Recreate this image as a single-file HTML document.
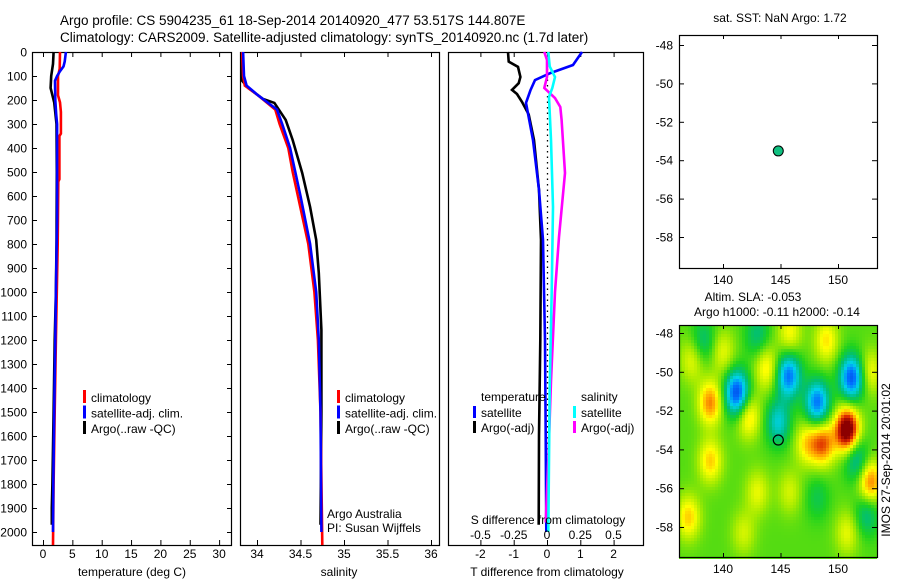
<!DOCTYPE html>
<html><head><meta charset="utf-8">
<style>
html,body{margin:0;padding:0;background:#fff;}
svg{display:block;font-family:"Liberation Sans",Arial,sans-serif;}
text{font-size:12px;fill:#000;}
</style></head>
<body>
<svg id="fig" width="900" height="580" viewBox="0 0 900 580" xmlns="http://www.w3.org/2000/svg">
<text x="60" y="25" style="font-size:13.5px">Argo profile: CS 5904235_61 18-Sep-2014 20140920_477 53.517S 144.807E</text>
<text x="60" y="42" style="font-size:13.5px">Climatology: CARS2009. Satellite-adjusted climatology: synTS_20140920.nc (1.7d later)</text>
<g id="layer"></g>
</svg>
<script>
// ---------------- data ----------------
const depthTicks=[0,100,200,300,400,500,600,700,800,900,1000,1100,1200,1300,1400,1500,1600,1700,1800,1900,2000];
const tempTicks=[0,5,10,15,20,25,30];
const salTicks=[34,34.5,35,35.5,36];
const tdiffTicks=[-2,-1,0,1,2];
const sdiffTicks=[-0.5,-0.25,0,0.25,0.5];
const latTicks=[-48,-50,-52,-54,-56,-58];
const lonTicks=[140,145,150];

const tClimDepth=[0,70,100,180,210,250,340,350,530,540,800,1000,1200,1500,1800,2054];
const tClimVal=[2.9,2.85,2.55,2.55,2.9,3.05,3.05,2.8,2.8,2.6,2.5,2.35,2.2,2.0,1.8,1.7];
const tSatDepth=[0,40,60,80,100,120,200,260,300,700,1000,1200,1500,1800,2000];
const tSatVal=[3.9,3.7,3.5,2.9,2.4,2.05,2.1,2.25,2.4,2.4,2.2,2.1,1.9,1.75,1.7];
const tArgoDepth=[0,50,100,150,170,210,300,500,800,1000,1200,1500,1800,1900,1970];
const tArgoVal=[1.8,1.7,1.4,1.3,1.5,1.9,2.3,2.35,2.3,2.2,2.0,1.8,1.6,1.5,1.5];

const sArgoDepth=[0,120,150,196,212,283,367,504,646,783,921,1158,1500,1970];
const sArgoVal=[33.83,33.83,33.9,34.07,34.2,34.33,34.41,34.52,34.61,34.68,34.71,34.74,34.74,34.73];
const sClimDepth=[0,100,140,180,240,300,400,500,600,800,1000,1200,1500,2054];
const sClimVal=[33.83,33.84,33.86,34.01,34.21,34.26,34.36,34.41,34.47,34.59,34.66,34.7,34.73,34.75];
const sSatDepth=[0,100,140,180,240,300,400,500,600,800,1000,1200,1500,2000];
const sSatVal=[33.84,33.85,33.88,34.01,34.23,34.29,34.38,34.44,34.5,34.61,34.68,34.71,34.73,34.74];

const dTArgoDepth=[0,40,62,104,130,158,175,208,260,367,575,783,1200,1600,1970];
const dTArgoVal=[-1.17,-1.15,-0.87,-0.8,-0.85,-1.05,-0.9,-0.75,-0.55,-0.39,-0.24,-0.18,-0.2,-0.24,-0.25];
const dTSatDepth=[0,54,88,117,160,212,367,575,783,1200,1600,2000];
const dTSatVal=[1.05,0.78,0.1,-0.36,-0.5,-0.63,-0.42,-0.24,-0.12,-0.06,-0.04,-0.02];
const dSSatDepth=[0,60,104,150,187,367,646,1000,1400,2000];
const dSSatVal=[0.01,0.02,0.06,0.04,0.015,0.03,0.045,0.035,0.02,0.01];
const dSArgoDepth=[0,33,104,150,192,229,283,504,771,1000,1371,1700,1960];
const dSArgoVal=[-0.02,0.0,0.0,-0.02,0.06,0.1,0.11,0.135,0.09,0.06,0.03,0.01,-0.01];

const floatLon=[144.807];
const floatLat=[-53.517];
// SLA anomaly blobs (lon, lat, amplitude)
const blobLon=[141.2,145.7,148.2,151.2,138.3,143,144.8,151.6,152.5,148.2,150.8,148.7,138.9,142.2,138.9,152.8,137,143.8,140,145.8,149,152.8,147.3,145.8,143,150.8,141.8,137.3];
const blobLat=[-51.1,-50.2,-51.6,-50.3,-48.4,-48.1,-52.6,-54.5,-57.3,-56.5,-53,-53.7,-51.6,-52.3,-54.6,-55.7,-57.5,-49.8,-49,-48,-48.4,-50,-53.7,-56.2,-56.2,-58.3,-58.3,-49.4];
const blobAmp=[-0.95,-0.8,-0.8,-0.9,-0.3,-0.3,-0.5,-0.45,-0.35,-0.2,1.15,0.65,0.6,0.45,0.45,0.65,0.45,0.4,0.3,0.35,0.4,0.35,0.4,0.25,0.3,0.3,0.25,0.3];

// ---------------- helpers ----------------
const NS="http://www.w3.org/2000/svg";
const layer=document.getElementById('layer');
function mk(tag,attrs,parent){const e=document.createElementNS(NS,tag);for(const k in attrs)e.setAttribute(k,attrs[k]);(parent||layer).appendChild(e);return e;}
function txt(x,y,s,anchor,parent,size){const t=mk('text',{x:x,y:y,'text-anchor':anchor||'start'},parent);if(size)t.style.fontSize=size+'px';t.textContent=s;return t;}

const TOP=52, BOT=545;
const yD=d=>TOP+d*0.24;
const xT=v=>43+v*5.87;
const xS=v=>257+(v-34)*87;
const xDT=v=>547+v*33.3;
const xDS=v=>547+v*133;
const P1={l:32,r:231}, P2={l:240,r:439}, P3={l:448,r:643};

function frame(p,name){
  const r=mk('rect',{x:p.l+0.5,y:TOP+0.5,width:p.r-p.l,height:BOT-TOP,fill:'none',stroke:'#000','stroke-width':1.2});
  
  
}
function line(xs,ys,color,name,fn,xf){
  const pts=xs.map((d,i)=>xf(ys[i]).toFixed(1)+','+yD(d).toFixed(1)).join(' ');
  const p=mk('polyline',{points:pts,fill:'none',stroke:color,'stroke-width':2.6,'stroke-linejoin':'miter'});
  
  
}
function xticks(p,ticks,f,labels,yl){
  ticks.forEach((v,i)=>{const x=f(v)+0.5;
    mk('line',{x1:x,x2:x,y1:BOT,y2:BOT-5,stroke:'#000'});
    mk('line',{x1:x,x2:x,y1:TOP,y2:TOP+5,stroke:'#000'});
    if(labels){const t=txt(f(v),yl,labels[i],'middle');
      
      }
  });
}

// ---------------- panel 1: temperature ----------------
frame(P1,'temperature-panel');
depthTicks.forEach(d=>{const y=yD(d)+0.5;
  mk('line',{x1:P1.l,x2:P1.l+5,y1:y,y2:y,stroke:'#000'});
  mk('line',{x1:P1.r-4,x2:P1.r+1,y1:y,y2:y,stroke:'#000'});
  const t=txt(27,yD(d)+4.5,String(d),'end');
  
  
});
xticks(P1,tempTicks,xT,tempTicks.map(String),558);
txt(132,576,'temperature (deg C)','middle');
line(tArgoDepth,tArgoVal,'#000','temp-argo-line',null,xT);
line(tClimDepth,tClimVal,'#f00','temp-climatology-line',null,xT);
line(tSatDepth,tSatVal,'#00f','temp-satellite-line',null,xT);

// ---------------- panel 2: salinity ----------------
frame(P2,'salinity-panel');
xticks(P2,salTicks,xS,['34','34.5','35','35.5','36'],558);
txt(339,576,'salinity','middle');
line(sArgoDepth,sArgoVal,'#000','sal-argo-line',null,xS);
line(sClimDepth,sClimVal,'#f00','sal-climatology-line',null,xS);
line(sSatDepth,sSatVal,'#00f','sal-satellite-line',null,xS);
txt(327,518,'Argo Australia');
txt(327,532,'PI: Susan Wijffels');

function legend(x,items){
  items.forEach((it,i)=>{const y=397+i*15.5;
    const r=mk('rect',{x:x,y:y-7,width:3,height:13,fill:it[0]});
    
    
    const t=txt(x+8,y+5,it[1]);
    
    
  });
}
const legItems=[['#f00','climatology'],['#00f','satellite-adj. clim.'],['#000','Argo(..raw -QC)']];
legend(83,legItems);
legend(337,legItems);

// ---------------- panel 3: differences ----------------
frame(P3,'difference-panel');
xticks(P3,tdiffTicks,xDT,['-2','-1','0','1','2'],558);
txt(547,576,'T difference from climatology','middle');
const dz=mk('line',{x1:547.5,x2:547.5,y1:TOP,y2:yD(2000),stroke:'#000','stroke-dasharray':'1.5,4','stroke-width':1.3});


line(dTArgoDepth,dTArgoVal,'#000','tdiff-argo-line',null,xDT);
line(dTSatDepth,dTSatVal,'#00f','tdiff-satellite-line',null,xDT);
line(dSArgoDepth,dSArgoVal,'#f0f','sdiff-argo-line',null,xDS);
line(dSSatDepth,dSSatVal,'#0ff','sdiff-satellite-line',null,xDS);
const sl=['-0.5','-0.25','0','0.25','0.5'];
sdiffTicks.forEach((v,i)=>{const t=txt(xDS(v),539,sl[i],'middle');
  
  });
txt(548,524,'S difference from climatology','middle');
txt(481,401,'temperature');
txt(581,401,'salinity');
[['#00f',473,'satellite',1],['#000',473,'Argo(-adj)',2],['#0ff',573,'satellite',1],['#f0f',573,'Argo(-adj)',2]].forEach(it=>{
  const y=397+it[3]*15;
  const r=mk('rect',{x:it[1],y:y-6,width:3,height:12,fill:it[0]});
  
  
  const t=txt(it[1]+8,y+5,it[2]);
  
  
});

// ---------------- map panels ----------------
const mX=lon=>723+(lon-140)*11.5;
function mapFrame(top,bot,lat48y,scale,name){
  const yL=lat=>lat48y+(-48-lat)*scale;
  const g=mk('g',{});
  
  
  latTicks.forEach(l=>{const y=yL(l)+0.5;
    mk('line',{x1:679,x2:684,y1:y,y2:y,stroke:'#000'},g);
    mk('line',{x1:872,x2:877,y1:y,y2:y,stroke:'#000'},g);
    const t=txt(673,yL(l)+4.5,String(l),'end',g);
    
    
  });
  lonTicks.forEach(l=>{const x=mX(l)+0.5;
    mk('line',{x1:x,x2:x,y1:top,y2:top+4,stroke:'#000'},g);
    mk('line',{x1:x,x2:x,y1:bot-4,y2:bot,stroke:'#000'},g);
    const t=txt(mX(l),bot+16,String(l),'middle',g);
    
    
  });
  return {g:g,yL:yL};
}
// top map
const m1=mapFrame(35,268,45,19.2,'sst-map-panel');
mk('rect',{x:679.5,y:35.5,width:198,height:233,fill:'none',stroke:'#000','stroke-width':1.2},m1.g);
txt(780,22,'sat. SST: NaN Argo: 1.72','middle');
const mk1=mk('circle',{cx:mX(floatLon[0]),cy:m1.yL(floatLat[0]),r:5,fill:'#10c080',stroke:'#000','stroke-width':1});



// SLA heatmap
const HT=325,HB=557;
const m2yL=lat=>333+(-48-lat)*19.4;
const cmap=[[-1,0,40,200],[-0.7,0,110,255],[-0.45,0,210,235],[-0.2,0,190,120],[0,30,210,30],[0.25,165,235,0],[0.45,255,255,0],[0.65,255,160,0],[0.85,220,40,0],[1.05,140,0,0]];
function col(v){
  if(v<=cmap[0][0])return cmap[0].slice(1);
  for(let i=1;i<cmap.length;i++){if(v<=cmap[i][0]){const a=cmap[i-1],b=cmap[i];const t=(v-a[0])/(b[0]-a[0]);
    return [0,1,2].map(k=>Math.round(a[k+1]+(b[k+1]-a[k+1])*t));}}
  return cmap[cmap.length-1].slice(1);
}
const hg=mk('g',{});


const cell=3;
for(let y=HT;y<HB;y+=cell){for(let x=679;x<877;x+=cell){
  const lon=140+(x+cell/2-723)/11.5, lat=-48-(y+cell/2-333)/19.4;
  let v=0.1;
  for(let i=0;i<blobLon.length;i++){const dx=(lon-blobLon[i])/1.05, dy=(lat-blobLat[i])/1.15;v+=blobAmp[i]*Math.exp(-(dx*dx+dy*dy));}
  const c=col(v);
  mk('rect',{x:x,y:y,width:cell,height:cell,fill:'rgb('+c.join(',')+')'},hg);
}}
const m2=mapFrame(HT,HB,333,19.4,'sla-map-panel');
mk('rect',{x:679.5,y:325.5,width:198,height:232,fill:'none',stroke:'#000','stroke-width':1.2},m2.g);
txt(753,301,'Altim. SLA: -0.053','middle');
txt(777,316,'Argo h1000: -0.11 h2000: -0.14','middle');
const mk2=mk('circle',{cx:mX(floatLon[0]),cy:m2yL(floatLat[0]),r:5,fill:'none',stroke:'#000','stroke-width':1.2});


const vt=txt(0,0,'IMOS 27-Sep-2014 20:01:02','middle');
vt.setAttribute('transform','translate(890,460) rotate(-90)');


</script>
</body></html>
